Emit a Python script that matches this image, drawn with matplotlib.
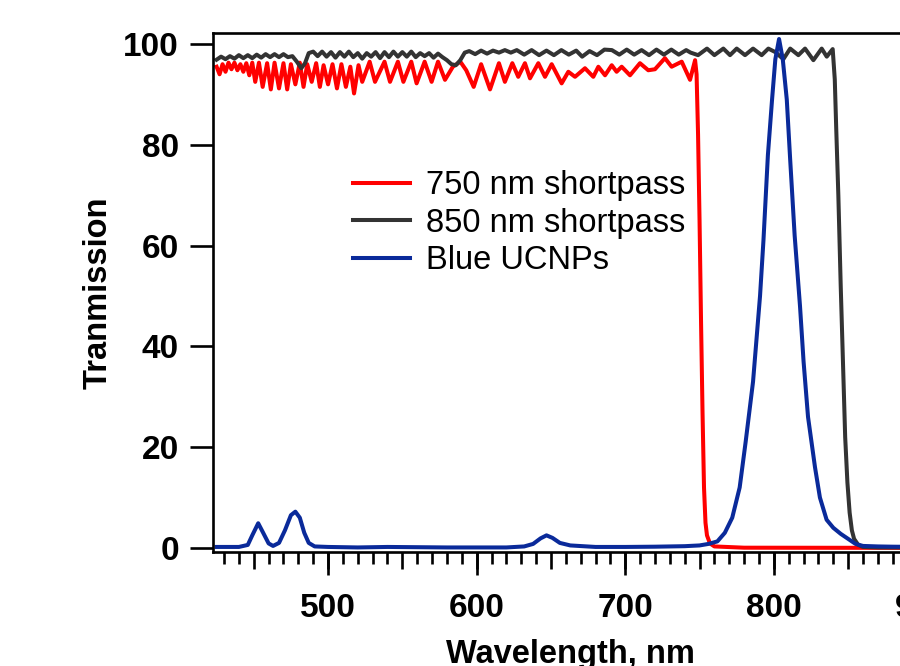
import matplotlib
matplotlib.use("Agg")
import matplotlib.pyplot as plt
from matplotlib.ticker import MultipleLocator

plt.rcParams['font.family'] = ['Liberation Sans', 'DejaVu Sans']
plt.rcParams['font.weight'] = 'bold'

# (wavelength nm, transmission %)
red_750 = [
    (425, 95.5), (427, 94.0), (429, 96.0), (431, 94.5), (433, 96.3), (435, 95.0),
    (437, 96.3), (439, 94.8), (441, 96.0), (443, 94.5), (445, 96.2), (447, 93.8),
    (449, 96.3), (451, 92.5), (453.5, 96.3), (456, 91.5), (459, 96.2), (461.5, 91.0),
    (464, 96.3), (467, 91.2), (470, 96.2), (472.5, 91.0), (475, 96.0), (478, 92.0),
    (481, 96.3), (483.5, 91.5), (486, 96.0), (489, 92.5), (492, 96.2), (494.5, 91.5),
    (497, 95.8), (500, 92.0), (503, 96.0), (506, 91.2), (509, 96.0), (512, 91.5),
    (515, 95.5), (517.5, 90.2), (520.5, 95.8), (523, 92.5), (528, 96.5), (531.6, 92.5),
    (538, 96.5), (541.7, 92.5), (547, 96.5), (550.7, 92.5), (556, 96.5), (559.6, 92.2),
    (565, 96.5), (569.7, 92.5), (574, 96.5), (578.7, 92.9), (584, 95.5), (589, 96.5),
    (593, 94.8), (598, 91.5), (603, 96.0), (609, 91.0), (615, 96.2), (619, 92.5),
    (624, 96.2), (628, 93.5), (632.5, 96.2), (635.9, 93.2), (641.5, 96.2), (646, 93.5),
    (650.5, 96.0), (657.2, 92.2), (661.7, 94.5), (666.2, 93.5), (672.9, 95.2), (678.5, 93.5),
    (681.9, 95.5), (686.4, 93.8), (690.9, 95.8), (694.2, 94.5), (697.6, 95.5), (703.2, 93.8),
    (709.9, 96.2), (715.5, 94.8), (720, 95.0), (726.7, 97.2), (731.2, 95.5), (738, 96.5),
    (743.6, 92.9), (747, 96.8), (748, 94), (749, 82), (750, 65), (751, 45), (752, 27),
    (753, 12), (754, 5), (755, 2.5), (757, 0.9), (760, 0.3), (780, 0.05), (950, 0.0),
]

black_850 = [
    (425, 96.9), (428, 97.5), (431, 97.0), (434, 97.6), (437, 97.1), (440, 97.8),
    (443, 97.2), (446, 97.8), (449, 97.2), (452, 97.9), (455, 97.3), (458, 98.0),
    (461, 97.4), (464, 98.0), (467, 97.4), (470, 98.0), (473, 97.4), (476, 97.6),
    (479, 96.5), (482, 95.2), (484.5, 96.2), (487, 98.2), (490, 98.5), (493, 97.6),
    (496, 98.5), (499, 97.5), (502, 98.4), (505, 97.3), (508, 98.4), (511, 97.5),
    (514, 98.5), (517, 97.4), (520, 98.2), (523, 97.1), (526, 98.2), (529, 97.5),
    (532, 98.4), (535, 97.2), (538, 98.4), (541, 97.4), (544, 98.5), (547, 97.5),
    (550, 98.4), (553, 97.5), (556, 98.5), (559, 97.4), (562, 98.2), (565, 97.6),
    (568, 98.2), (571, 97.3), (574, 98.1), (577, 97.4), (580, 96.8), (583, 96.0),
    (586, 95.8), (589, 96.8), (592, 98.3), (595, 98.6), (599, 98.0), (603, 98.7),
    (607, 98.1), (611, 98.7), (615, 98.3), (619, 98.8), (623, 98.3), (627, 98.8),
    (632, 97.9), (637, 98.8), (642, 97.8), (647, 98.7), (652, 97.8), (657, 98.8),
    (662, 97.9), (667, 98.7), (671, 97.5), (676, 98.6), (681, 97.8), (686, 98.9),
    (691, 98.8), (696, 97.9), (701, 98.9), (706, 97.9), (711, 98.8), (716, 97.8),
    (721, 98.9), (726, 97.9), (731, 98.9), (736, 97.9), (741, 98.8), (744, 98.3),
    (749, 97.8), (755, 99.1), (760, 97.8), (766, 99.1), (770.5, 97.8), (775, 99.1),
    (780.6, 97.8), (786, 99.1), (791.8, 97.8), (796.3, 99.1), (801, 98.4), (806.4, 97.0),
    (811, 99.1), (816.5, 97.8), (821, 99.1), (826.6, 96.8), (832.2, 99.1), (835.6, 97.5),
    (839.6, 99.0), (841, 93), (842, 83), (843.4, 70), (845, 52), (846.8, 34), (848, 22),
    (849.5, 13), (851, 7), (852.5, 3.5), (854, 1.8), (856.8, 0.6), (860, 0.2),
    (870, 0.1), (900, 0.1), (950, 0.1),
]

blue_ucnp = [
    (425, 0.2), (440, 0.2), (446, 0.6), (449, 2.5), (453, 4.9), (456, 3.2), (460, 0.9),
    (463, 0.4), (467, 1.0), (471, 3.5), (475, 6.5), (478, 7.2), (481, 6.0), (484, 3.0),
    (487, 1.0), (491, 0.3), (500, 0.2), (520, 0.1), (540, 0.2), (560, 0.15), (580, 0.1),
    (600, 0.1), (620, 0.1), (632, 0.3), (638, 0.8), (643, 1.9), (647, 2.5), (651, 2.0),
    (656, 1.0), (663, 0.5), (680, 0.2), (700, 0.2), (720, 0.25), (740, 0.35), (750, 0.5),
    (756, 0.8), (762, 1.3), (767, 3.0), (772, 6.0), (777, 12.0), (781, 21.0), (786, 33.0),
    (790.7, 50.0), (793, 61.0), (796, 78.0), (798.8, 89.0), (801, 97.0), (803.5, 101.0),
    (806, 97.0), (808.7, 89.0), (811, 77.0), (814, 62.0), (817.6, 48.0), (820, 37.0),
    (823, 26.0), (827.7, 16.0), (831, 10.0), (835.5, 5.6), (840, 4.0), (845, 2.8),
    (849, 2.0), (855, 0.8), (860, 0.4), (870, 0.3), (880, 0.25), (900, 0.2), (920, 0.2),
    (950, 0.2),
]

labels = ['750 nm shortpass', '850 nm shortpass', 'Blue UCNPs']
colors = ['#ff0000', '#333333', '#0a2a9a']

fig = plt.figure(figsize=(9, 6.66), dpi=100)
ax = fig.add_axes([0.2367, 0.1712, 0.8708, 0.7793])

for data, lab, col in zip([red_750, black_850, blue_ucnp], labels, colors):
    wl, t = zip(*data)
    ax.plot(wl, t, color=col, lw=2.9, label=lab, solid_joinstyle='round')

ax.set_xlim(422.6, 950)
ax.set_ylim(-0.8, 102.2)

for s in ax.spines.values():
    s.set_linewidth(1.9)

# y axis
ax.yaxis.set_major_locator(MultipleLocator(20))
ax.tick_params(axis='y', which='major', direction='out', length=16.5, width=1.9,
               labelsize=24, pad=8)

# x axis: minor every 10, medium every 50, long + labels every 100
ax.xaxis.set_major_locator(MultipleLocator(50))
ax.xaxis.set_minor_locator(MultipleLocator(10))
ax.tick_params(axis='x', which='major', direction='out', length=12, width=1.9,
               labelbottom=False)
ax.tick_params(axis='x', which='minor', direction='out', length=8.6, width=1.9)

sec = ax.secondary_xaxis('bottom')
sec.spines['bottom'].set_visible(False)
sec.xaxis.set_major_locator(MultipleLocator(100))
sec.tick_params(axis='x', direction='out', length=16.5, width=1.9, labelsize=24, pad=13)

fig.text(98 / 900, 1 - 293 / 666, 'Tranmission', rotation=90, ha='center', va='center',
         fontsize=23.5, fontweight='bold')
fig.text(570 / 900, 1 - 655 / 666, 'Wavelength, nm', ha='center', va='center',
         fontsize=23.5, fontweight='bold')

ax.legend(loc='upper left', bbox_to_anchor=(353 / 900, 1 - 170 / 666),
          bbox_transform=fig.transFigure, frameon=False, borderpad=0, borderaxespad=0,
          handlelength=1.75, handletextpad=0.5, labelspacing=0.2,
          prop={'weight': 'normal', 'size': 23.5})

plt.savefig('out.png', dpi=100)
